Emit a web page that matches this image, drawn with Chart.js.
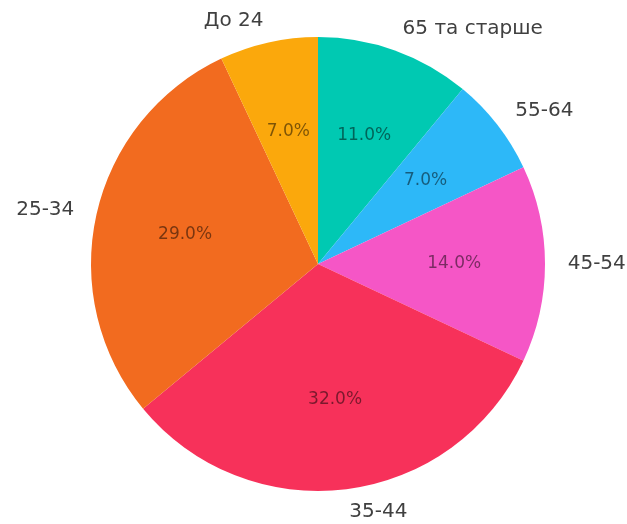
<!DOCTYPE html>
<html>
<head>
<meta charset="utf-8">
<script src="https://cdn.jsdelivr.net/npm/chart.js@4"></script>
<style>
  html, body { margin: 0; padding: 0; background: #fff; }
  #wrap { width: 627px; height: 524px; }
</style>
</head>
<body>
<div id="wrap"><canvas id="ageChart" width="627" height="524"></canvas></div>
<script>
// clockwise from the top
const ageGroups = ['65 та старше', '55-64', '45-54', '35-44', '25-34', 'До 24'];
const shares = [11, 7, 14, 32, 29, 7];
const sliceColors = ['#00c9b2', '#2db8f8', '#f556c6', '#f7315a', '#f26b1f', '#fba80c'];

const pieLabels = {
    id: 'pieLabels',
    afterDatasetsDraw(chart) {
        const ctx = chart.ctx;
        const total = shares.reduce((a, b) => a + b, 0);
        chart.getDatasetMeta(0).data.forEach((arc, i) => {
            const p = arc.getProps(['x', 'y', 'startAngle', 'endAngle', 'outerRadius'], true);
            const mid = (p.startAngle + p.endAngle) / 2;
            const cx = Math.cos(mid), cy = Math.sin(mid);
            ctx.save();
            ctx.textBaseline = 'middle';
            // outer category label
            ctx.font = '20px "DejaVu Sans"';
            ctx.fillStyle = '#404040';
            ctx.textAlign = cx < 0 ? 'right' : 'left';
            ctx.fillText(ageGroups[i], p.x + cx * p.outerRadius * 1.1, p.y + cy * p.outerRadius * 1.1);
            // percent inside
            ctx.font = '17px "DejaVu Sans"';
            ctx.fillStyle = 'rgba(0,0,0,0.5)';
            ctx.textAlign = 'center';
            const pct = (shares[i] / total * 100).toFixed(1) + '%';
            ctx.fillText(pct, p.x + cx * p.outerRadius * 0.6, p.y + cy * p.outerRadius * 0.6);
            ctx.restore();
        });
    }
};

new Chart(document.getElementById('ageChart').getContext('2d'), {
    type: 'pie',
    data: {
        labels: ageGroups,
        datasets: [{
            data: shares,
            backgroundColor: sliceColors,
            borderWidth: 0
        }]
    },
    options: {
        responsive: false,
        animation: false,
        layout: { padding: { left: 91, right: 82, top: 37, bottom: 33 } },
        plugins: {
            legend: { display: false },
            tooltip: { enabled: false }
        }
    },
    plugins: [pieLabels]
});
</script>
</body>
</html>
